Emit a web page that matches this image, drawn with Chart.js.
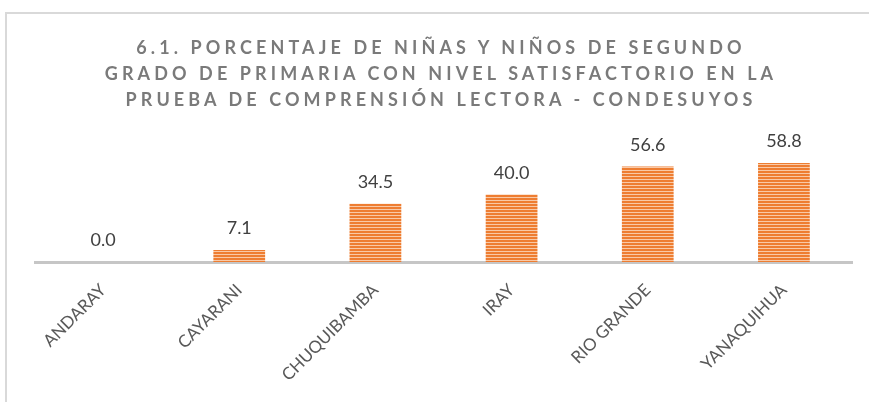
<!DOCTYPE html>
<html>
<head>
<meta charset="utf-8">
<script src="https://cdn.jsdelivr.net/npm/chart.js@4/dist/chart.umd.min.js"></script>
<style>
  html, body { margin: 0; padding: 0; background: #fff; }
  #wrap { position: relative; width: 869px; height: 402px; overflow: hidden; }
  #frame {
    position: absolute; left: 5px; top: 12px; width: 900px; height: 420px;
    border: 2px solid #d9d9d9; box-sizing: border-box;
  }
  #title {
    position: absolute; left: 0; top: 34px; width: 882px; text-align: center;
    font-family: Lato, "Open Sans", sans-serif; font-weight: bold; font-size: 18px;
    letter-spacing: 4.1px; line-height: 26px; color: #7a7a7a;
  }
  canvas { position: absolute; left: 0; top: 0; }
</style>
</head>
<body>
<div id="wrap">
  <div id="frame"></div>
  <canvas id="c" width="869" height="402"></canvas>
  <div id="title">6.1. PORCENTAJE DE NIÑAS Y NIÑOS DE SEGUNDO<br>GRADO DE PRIMARIA CON NIVEL SATISFACTORIO EN LA<br>PRUEBA DE COMPRENSIÓN LECTORA - CONDESUYOS</div>
</div>
<script>
// Districts of Condesuyos and share of pupils at the satisfactory level (%)
const districts = ["ANDARAY", "CAYARANI", "CHUQUIBAMBA", "IRAY", "RIO GRANDE", "YANAQUIHUA"];
const satisfactory = [0.0, 7.1, 34.5, 40.0, 56.6, 58.8];

// Horizontal orange stripes used as bar fill
function stripeFill() {
  const p = document.createElement('canvas');
  p.width = 4; p.height = 3;
  const g = p.getContext('2d');
  g.fillStyle = '#f9c9a6';
  g.fillRect(0, 0, 4, 3);
  g.fillStyle = '#ee7d31';
  g.fillRect(0, 0, 4, 2);
  return g.createPattern(p, 'repeat');
}

// Value written above each bar
const valueLabels = {
  id: 'valueLabels',
  afterDatasetsDraw(chart) {
    const ctx = chart.ctx;
    const meta = chart.getDatasetMeta(0);
    ctx.save();
    ctx.font = '18px Lato, "Open Sans", sans-serif';
    ctx.fillStyle = '#404040';
    ctx.textAlign = 'center';
    ctx.textBaseline = 'alphabetic';
    meta.data.forEach((bar, i) => {
      ctx.fillText(satisfactory[i].toFixed(1), bar.x, bar.y - 16);
    });
    ctx.restore();
  }
};

new Chart(document.getElementById('c'), {
  type: 'bar',
  data: {
    labels: districts,
    datasets: [{
      data: satisfactory,
      backgroundColor: stripeFill(),
      borderWidth: 0,
      barPercentage: 0.76,
      categoryPercentage: 0.5
    }]
  },
  options: {
    responsive: false,
    animation: false,
    events: [],
    layout: { padding: { left: 35, right: 17, top: 144, bottom: 0 } },
    plugins: { legend: { display: false }, tooltip: { enabled: false }, title: { display: false } },
    scales: {
      y: { display: false, min: 0, max: 70 },
      x: {
        afterFit(scale) { scale.height = 140; },
        grid: { display: false, drawTicks: false },
        border: { display: true, color: '#c6c6c6', width: 3 },
        ticks: {
          minRotation: 45, maxRotation: 45, padding: 18,
          color: '#595959',
          font: { family: 'Lato, "Open Sans", sans-serif', size: 17 }
        }
      }
    }
  },
  plugins: [valueLabels]
});
</script>
</body>
</html>
